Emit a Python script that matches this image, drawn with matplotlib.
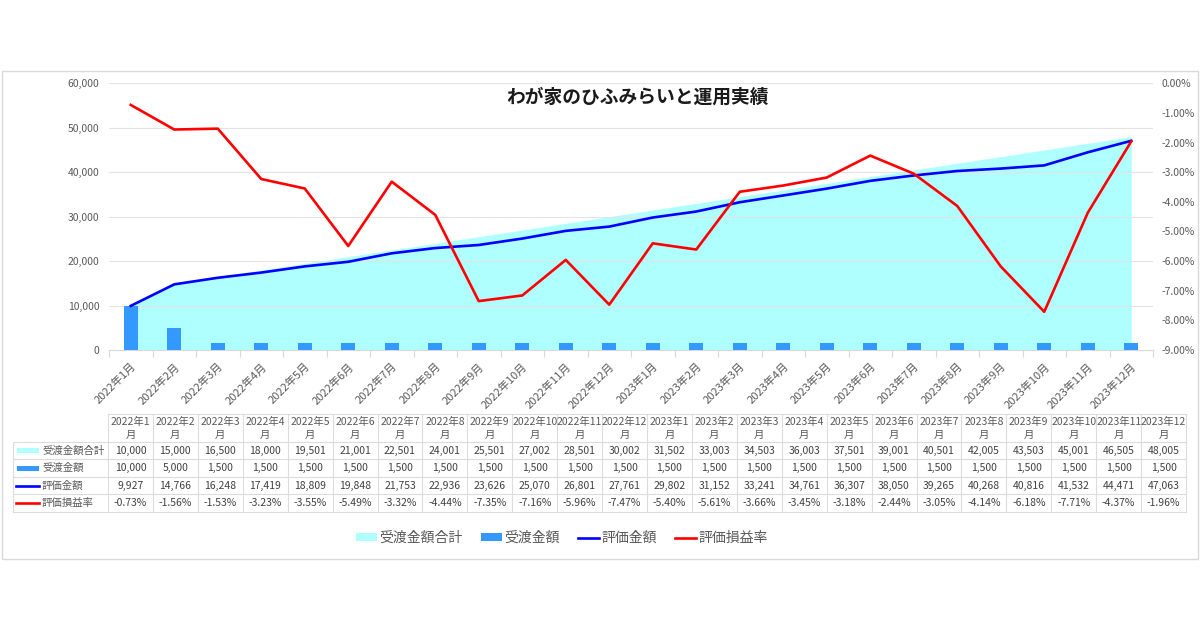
import matplotlib
matplotlib.use('Agg')
from matplotlib import pyplot
from matplotlib import patches
from matplotlib.lines import Line2D

pyplot.rcParams['font.family'] = ['Noto Sans CJK JP', 'DejaVu Sans']

months = ['2022年1月', '2022年2月', '2022年3月', '2022年4月', '2022年5月', '2022年6月',
          '2022年7月', '2022年8月', '2022年9月', '2022年10月', '2022年11月', '2022年12月',
          '2023年1月', '2023年2月', '2023年3月', '2023年4月', '2023年5月', '2023年6月',
          '2023年7月', '2023年8月', '2023年9月', '2023年10月', '2023年11月', '2023年12月']
total_paid = [10000, 15000, 16500, 18000, 19501, 21001, 22501, 24001, 25501, 27002, 28501, 30002,
              31502, 33003, 34503, 36003, 37501, 39001, 40501, 42005, 43503, 45001, 46505, 48005]
paid = [10000, 5000, 1500, 1500, 1500, 1500, 1500, 1500, 1500, 1500, 1500, 1500,
        1500, 1500, 1500, 1500, 1500, 1500, 1500, 1500, 1500, 1500, 1500, 1500]
valuation = [9927, 14766, 16248, 17419, 18809, 19848, 21753, 22936, 23626, 25070, 26801, 27761,
             29802, 31152, 33241, 34761, 36307, 38050, 39265, 40268, 40816, 41532, 44471, 47063]
pl_rate = [-0.73, -1.56, -1.53, -3.23, -3.55, -5.49, -3.32, -4.44, -7.35, -7.16, -5.96, -7.47,
           -5.40, -5.61, -3.66, -3.45, -3.18, -2.44, -3.05, -4.14, -6.18, -7.71, -4.37, -1.96]
series_names = ['受渡金額合計', '受渡金額', '評価金額', '評価損益率']

C_AREA = '#AFFFFF'
C_BAR = '#3399FF'
C_BLUE = '#0000FF'
C_RED = '#FF0000'
C_TEXT = '#595959'
C_GRID = '#D9D9D9'

W, H = 1200, 630
fig = pyplot.figure(figsize=(12, 6.3), dpi=100)

def box(l, t, r, b):
    return [l / W, 1 - b / H, (r - l) / W, (b - t) / H]

# overlay in pixel coords for border / table
ov = fig.add_axes([0, 0, 1, 1], zorder=0)
ov.set_xlim(0, W)
ov.set_ylim(H, 0)
ov.axis('off')
ov.add_patch(patches.Rectangle((1.5, 70.5), 1196.5, 488.5, fill=False, edgecolor=C_GRID, linewidth=1))

ax = fig.add_axes(box(109, 83.3, 1153, 350), zorder=2)
ax.patch.set_alpha(0)
n = len(months)
xs = list(range(n))

ax.fill_between(xs, 0, total_paid, color=C_AREA, linewidth=0, zorder=1)
for y in range(10000, 60001, 10000):
    ax.axhline(y, color='#E3E3E3', linewidth=0.8, zorder=2)
ax.bar(xs, paid, 0.32, color=C_BAR, zorder=3)
ax.plot(xs, valuation, color=C_BLUE, linewidth=1.9, zorder=4)

ax.set_xlim(-0.5, n - 0.5)
ax.set_ylim(0, 60000)
ax.set_yticks(range(0, 60001, 10000))
ax.set_yticklabels(['{:,}'.format(v) for v in range(0, 60001, 10000)])
ax.set_xticks(xs)
ax.set_xticklabels(months, rotation=45, ha='right', rotation_mode='anchor')
ax.set_xticks([x - 0.5 for x in range(n + 1)], minor=True)
ax.tick_params(axis='x', which='major', length=0, pad=8, labelsize=8, labelcolor=C_TEXT)
ax.tick_params(axis='x', which='minor', length=5, color=C_GRID, width=0.8)
ax.tick_params(axis='y', length=0, pad=7, labelsize=7.5, labelcolor=C_TEXT)
for s in ['top', 'right', 'left']:
    ax.spines[s].set_visible(False)
ax.spines['bottom'].set_color(C_GRID)
ax.spines['bottom'].set_linewidth(0.8)

ax2 = ax.twinx()
ax2.set_zorder(3)
ax2.plot(xs, [r / 100 for r in pl_rate], color=C_RED, linewidth=1.9, zorder=5)
ax2.set_ylim(-0.09, 0)
ax2.set_yticks([-i / 100 for i in range(0, 10)])
ax2.set_yticklabels(['{:.2f}%'.format(-i) for i in range(0, 10)])
ax2.tick_params(axis='y', length=0, pad=6, labelsize=7.5, labelcolor=C_TEXT)
for s in ['top', 'right', 'left', 'bottom']:
    ax2.spines[s].set_visible(False)

fig.text(637 / W, 1 - 97 / H, 'わが家のひふみらいと運用実績', ha='center', va='center',
         fontsize=13.5, fontweight='bold', color='#1A1A1A')

# data table
t_left, t_lab, t_right = 13, 108, 1186
col_w = (t_right - t_lab) / n
h_top = 414.3
row_lines = [441.7, 459.3, 476.7, 494.3, 512]
lc = '#DCDCDC'
ov.plot([t_lab, t_right], [h_top, h_top], color=lc, lw=0.8)
for y in row_lines:
    ov.plot([t_left, t_right], [y, y], color=lc, lw=0.8)
ov.plot([t_left, t_left], [row_lines[0], row_lines[-1]], color=lc, lw=0.8)
for i in range(n + 1):
    x = t_lab + i * col_w
    ov.plot([x, x], [h_top, row_lines[-1]], color=lc, lw=0.8)

for i, m in enumerate(months):
    cx = t_lab + (i + 0.5) * col_w
    ov.text(cx, 421.7, m[:-1], ha='center', va='center', fontsize=7.5, color=C_TEXT)
    ov.text(cx, 434.5, '月', ha='center', va='center', fontsize=7.5, color=C_TEXT)

rows = [['{:,}'.format(v) for v in total_paid],
        ['{:,}'.format(v) for v in paid],
        ['{:,}'.format(v) for v in valuation],
        ['{:.2f}%'.format(v) for v in pl_rate]]
for r, vals in enumerate(rows):
    cy = (row_lines[r] + row_lines[r + 1]) / 2
    for i, v in enumerate(vals):
        ov.text(t_lab + (i + 0.5) * col_w, cy, v, ha='center', va='center', fontsize=7.5, color='#404040')
    ov.text(42, cy, series_names[r], ha='left', va='center', fontsize=7.5, color=C_TEXT)
    if r == 0:
        ov.add_patch(patches.Rectangle((17, cy - 2.5), 22, 5, color=C_AREA, lw=0))
    elif r == 1:
        ov.add_patch(patches.Rectangle((17, cy - 2.5), 22, 5, color=C_BAR, lw=0))
    else:
        ov.plot([16, 39], [cy, cy], color=[C_BLUE, C_RED][r - 2], lw=1.9)

# legend
legend_elements = [patches.Patch(facecolor=C_AREA, label=series_names[0]),
                   patches.Patch(facecolor=C_BAR, label=series_names[1]),
                   Line2D([0], [0], color=C_BLUE, lw=1.9, label=series_names[2]),
                   Line2D([0], [0], color=C_RED, lw=1.9, label=series_names[3])]
fig.legend(handles=legend_elements, loc='center', bbox_to_anchor=(562 / W, 1 - 538 / H), ncol=4,
           frameon=False, fontsize=10, labelcolor=C_TEXT, handlelength=1.5, handleheight=0.5,
           handletextpad=0.2, columnspacing=1.3)

pyplot.savefig('out.png', dpi=100)
